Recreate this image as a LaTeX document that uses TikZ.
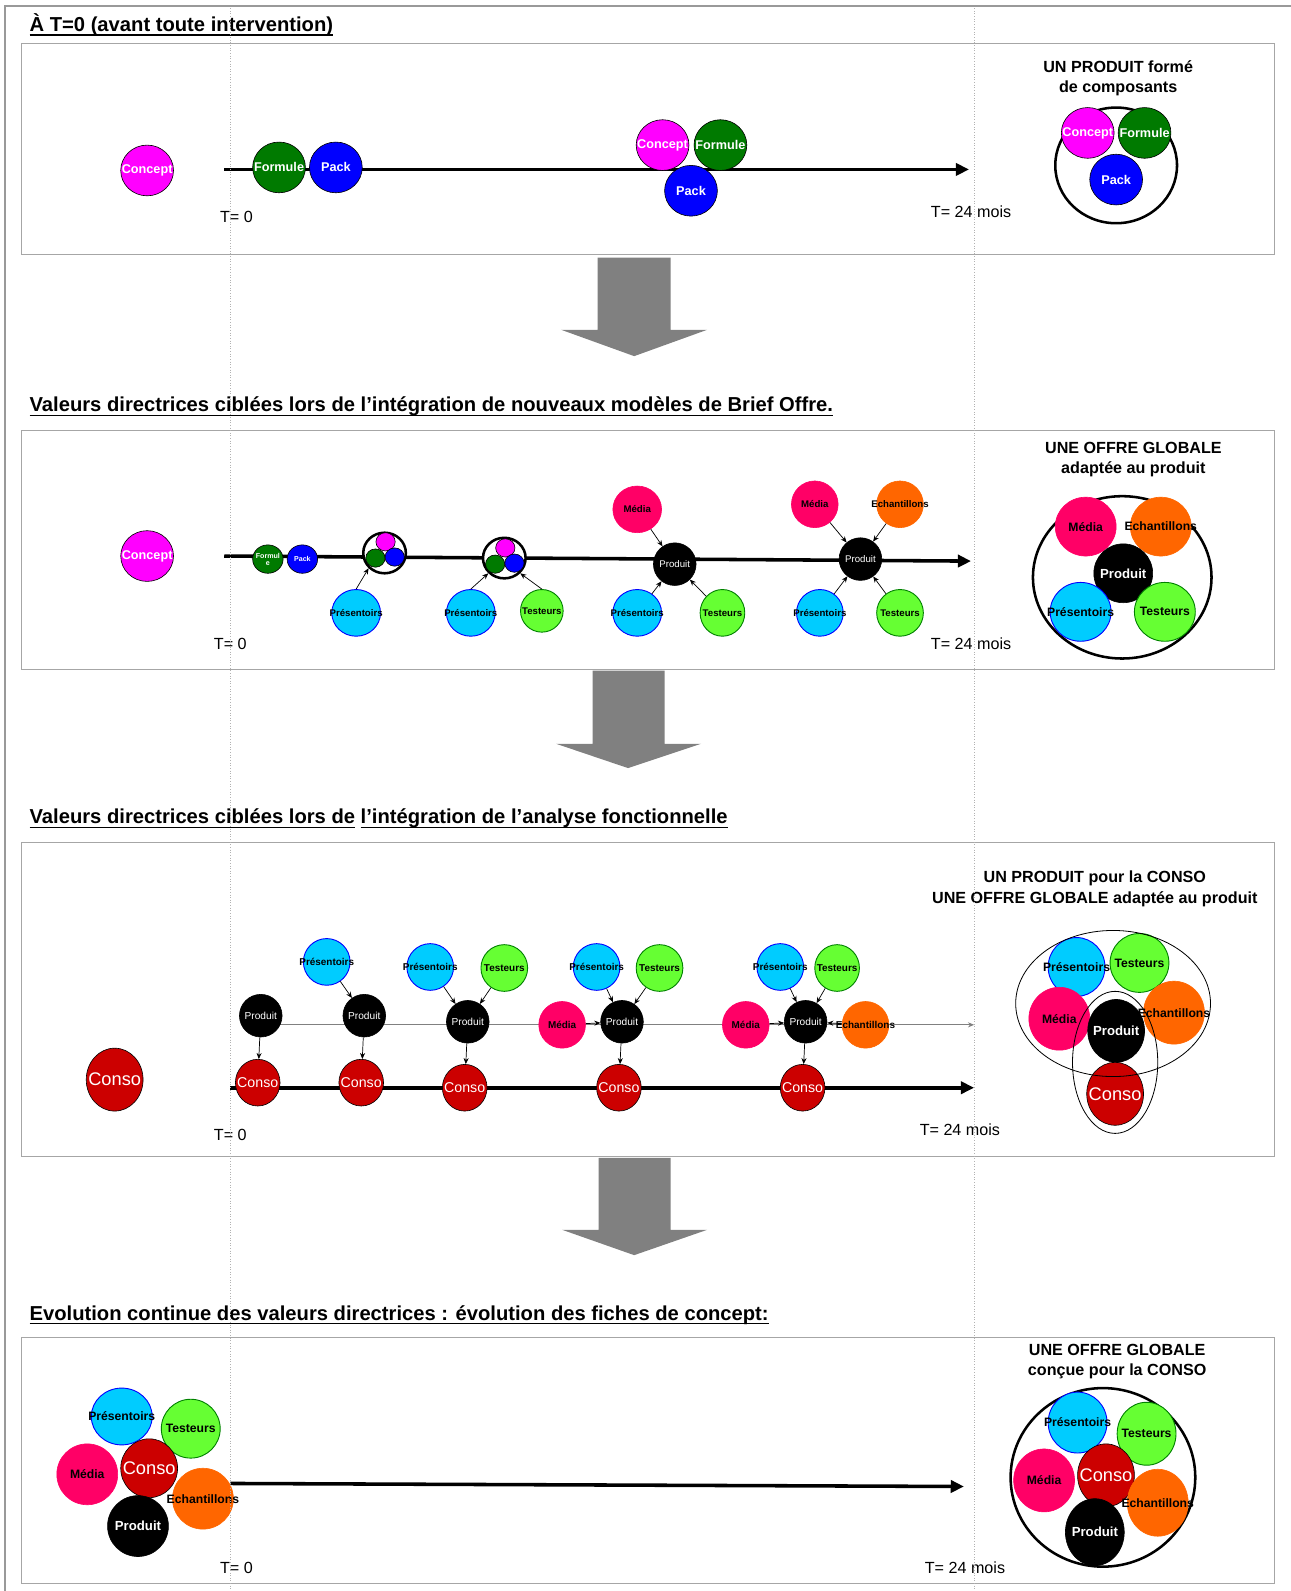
\documentclass[tikz,border=0pt]{standalone}
\usepackage{fontspec}
\setmainfont{Liberation Sans}
\usetikzlibrary{arrows.meta,shapes.geometric}
\definecolor{cConcept}{HTML}{FF00FF}
\definecolor{cFormule}{HTML}{007A00}
\definecolor{cPack}{HTML}{0000FF}
\definecolor{cPresent}{HTML}{00CCFF}
\definecolor{cTesteur}{HTML}{66FF33}
\definecolor{cMedia}{HTML}{FF0066}
\definecolor{cEchant}{HTML}{FF6600}
\definecolor{cConso}{HTML}{CC0000}
\definecolor{cFleche}{HTML}{808080}
\newcommand{\etiq}[1]{\makebox[0pt]{#1}}
\newcommand{\souligne}[1]{\setbox0=\hbox{#1}\rlap{\raisebox{-4.2pt}{\rule{\wd0}{1.6pt}}}\box0\relax}

\tikzset{
  fs/.style={font=\fontsize{#1}{#1}\selectfont\bfseries},
  fsn/.style={font=\fontsize{#1}{#1}\selectfont},
  taille/.style 2 args={minimum width=#1, minimum height=#2},
  cadre/.style={draw=gray!70, line width=1pt},
  titre/.style={anchor=base west, inner sep=0pt, font=\fontsize{19.9}{22}\selectfont\bfseries},
  temps/.style={anchor=base, inner sep=0pt, font=\fontsize{15.9}{16}\selectfont},
  entete/.style={align=center, inner sep=0pt, font=\fontsize{15.9}{20}\selectfont\bfseries},
  axe/.style={line width=3.5pt, -{Triangle[length=13pt,width=12pt]}},
  fin/.style={draw=gray, line width=0.8pt, -{Stealth[length=6pt,width=5pt]}},
  lien/.style={line width=0.7pt, -{Stealth[length=6pt,width=5pt]}},
  bulle/.style={ellipse, inner sep=0pt, draw=black, line width=0.6pt},
  concept/.style={bulle, fill=cConcept, text=white, fs=#1},
  formule/.style={bulle, fill=cFormule, text=white, fs=#1},
  pack/.style={bulle, fill=cPack, text=white, fs=#1},
  presentoir/.style={bulle, fill=cPresent, draw=blue, line width=0.9pt, fs=#1},
  testeur/.style={bulle, fill=cTesteur, draw=green!50!black, line width=0.9pt, fs=#1},
  media/.style={bulle, fill=cMedia, draw=cMedia, fs=#1},
  echant/.style={bulle, fill=cEchant, draw=cEchant, fs=#1},
  produit/.style={bulle, fill=black, text=white, fsn=#1},
  conso/.style={bulle, fill=cConso, text=white, fsn=#1},
  anneau/.style={ellipse, inner sep=0pt, draw=black, line width=2.5pt, fill=white},
  ensemble/.style={ellipse, inner sep=0pt, draw=black, line width=2.5pt},
  ensemblefin/.style={ellipse, inner sep=0pt, draw=black, line width=0.8pt},
  pointille/.style={draw=gray!60, dotted, line width=0.6pt}
}

\begin{document}
\begin{tikzpicture}[x=1pt,y=-1pt]
  \useasboundingbox (0,0) rectangle (1272,1568);
  \draw[gray!80, line width=1.5pt] (5,1568) -- (5,6) -- (1272,6);

  % --- A T=0 ---
  \node[titre] (titreA) at (29,31) {\souligne{À T=0 (avant toute intervention)}};
  \draw[cadre] (21,43) rectangle (1256,251);
  \coordinate (a0) at (221,167);
  \coordinate (a24) at (955,167);
  \draw[axe] (a0) -- (a24);
  \node[concept=12.5, taille={52}{50}] (aConcept) at (145,168) {\etiq{Concept}};
  \node[formule=12.5, taille={52}{50}] (aFormule) at (275,165) {\etiq{Formule}};
  \node[pack=12.5, taille={52}{50}] (aPack) at (331,165) {\etiq{Pack}};
  \node[concept=12.5, taille={52}{50}] (aConcept2) at (653,143) {\etiq{Concept}};
  \node[formule=12.5, taille={52}{50}] (aFormule2) at (710,143) {\etiq{Formule}};
  \node[pack=12.5, taille={52}{50}] (aPack2) at (681,188) {\etiq{Pack}};
  \node[temps] (aT0) at (233,219) {T= 0};
  \node[temps] (aT24) at (957,214) {T= 24 mois};
  \node[entete] (aEntete) at (1102,77) {UN PRODUIT formé\\de composants};
  \node[ensemble, taille={120}{114}] (aEns) at (1100,163) {};
  \node[concept=12.5, taille={52}{50}] (aConcept3) at (1072,131) {\etiq{Concept}};
  \node[formule=12.5, taille={52}{50}] (aFormule3) at (1128,131) {\etiq{Formule}};
  \node[pack=12.5, taille={52}{50}] (aPack3) at (1100,177) {\etiq{Pack}};

  \fill[cFleche] (589,254) -- (661,254) -- (661,325) -- (697,325) -- (625,351) -- (553,325) -- (589,325) -- cycle;

  % --- Brief Offre ---
  \node[titre] (titreB) at (29,406) {\souligne{Valeurs directrices ciblées lors de l’intégration de nouveaux modèles de Brief Offre.}};
  \draw[cadre] (21,424) rectangle (1256,660);
  \coordinate (b0) at (221,548);
  \coordinate (b24) at (957,553);
  \draw[axe] (b0) -- (b24);
  \node[concept=12.5, taille={52}{50}] (bConcept) at (145,548) {\etiq{Concept}};
  \node[formule=7, taille={30}{28}] (bFormule) at (264,551) {\etiq{\shortstack{Formul\\e}}};
  \node[pack=7, taille={30}{28}] (bPack) at (298,551) {\etiq{Pack}};
  \node[anneau, taille={42}{40}] (bAnneau1) at (379,545) {};
  \node[concept=1, taille={19}{18}] (bConceptA1) at (380,534) {};
  \node[formule=1, taille={19}{18}] (bFormuleA1) at (370,550) {};
  \node[pack=1, taille={19}{18}] (bPackA1) at (389,549) {};
  \node[anneau, taille={42}{40}] (bAnneau2) at (497,550) {};
  \node[concept=1, taille={19}{18}] (bConceptA2) at (498,540) {};
  \node[formule=1, taille={19}{18}] (bFormuleA2) at (488,556) {};
  \node[pack=1, taille={19}{18}] (bPackA2) at (507,555) {};
  \node[presentoir=9.5, taille={48}{46}] (bPres1) at (351,604) {\etiq{Présentoirs}};
  \node[presentoir=9.5, taille={48}{46}] (bPres2) at (464,604) {\etiq{Présentoirs}};
  \node[testeur=9.5, taille={42}{42}] (bTest2) at (534,602) {\etiq{Testeurs}};
  \draw[lien] (bPres1.north) -- (bAnneau1.south west);
  \draw[lien] (bPres2.north) -- (bAnneau2.south west);
  \draw[lien] (bTest2.north) -- (bAnneau2.south east);
  % premier produit
  \node[media=9.5, taille={48}{46}] (bMedia1) at (628,502) {\etiq{Média}};
  \node[produit=9.5, taille={42}{42}] (bProduit1) at (665,556) {\etiq{Produit}};
  \node[presentoir=9.5, taille={48}{46}] (bPres3) at (628,604) {\etiq{Présentoirs}};
  \node[testeur=9.5, taille={44}{46}] (bTest3) at (712,604) {\etiq{Testeurs}};
  \draw[lien] (bMedia1) -- (bProduit1);
  \draw[lien] (bPres3) -- (bProduit1);
  \draw[lien] (bTest3) -- (bProduit1);
  % second produit
  \node[media=9.5, taille={46}{46}] (bMedia2) at (803,497) {\etiq{Média}};
  \node[echant=9.5, taille={46}{46}] (bEchant2) at (887,497) {\etiq{Echantillons}};
  \node[produit=9.5, taille={42}{42}] (bProduit2) at (848,551) {\etiq{Produit}};
  \node[presentoir=9.5, taille={46}{46}] (bPres4) at (808,604) {\etiq{Présentoirs}};
  \node[testeur=9.5, taille={46}{46}] (bTest4) at (887,604) {\etiq{Testeurs}};
  \draw[lien] (bMedia2) -- (bProduit2);
  \draw[lien] (bEchant2) -- (bProduit2);
  \draw[lien] (bPres4) -- (bProduit2);
  \draw[lien] (bTest4) -- (bProduit2);
  \node[temps] (bT0) at (227,640) {T= 0};
  \node[temps] (bT24) at (957,640) {T= 24 mois};
  \node[entete] (bEntete) at (1117,453) {UNE OFFRE GLOBALE\\adaptée au produit};
  \node[ensemble, taille={176}{160}] (bEns) at (1106,569) {};
  \node[media=12, taille={60}{58}] (bMedia3) at (1070,519) {\etiq{Média}};
  \node[echant=12, taille={60}{58}] (bEchant3) at (1144,519) {\etiq{Echantillons}};
  \node[produit=13, fs=13, taille={58}{58}] (bProduit3) at (1107,565) {\etiq{Produit}};
  \node[presentoir=12, taille={60}{58}] (bPres5) at (1065,603) {\etiq{Présentoirs}};
  \node[testeur=12, taille={60}{58}] (bTest5) at (1148,603) {\etiq{Testeurs}};

  \fill[cFleche] (584,661) -- (655,661) -- (655,733) -- (691,733) -- (619,757) -- (548,733) -- (584,733) -- cycle;

  % --- Analyse fonctionnelle ---
  \node[titre] (titreC) at (29,812) {\souligne{Valeurs directrices ciblées lors de} \souligne{l’intégration de l’analyse fonctionnelle}};
  \draw[cadre] (21,830) rectangle (1256,1140);
  \coordinate (c0) at (227,1072);
  \coordinate (c24) at (960,1072);
  \coordinate (cp0) at (257,1010);
  \coordinate (cp24) at (960,1010);
  \draw[axe] (c0) -- (c24);
  \draw[fin] (cp0) -- (cp24);
  \node[conso=18, taille={56}{62}] (cConso0) at (113,1064) {\etiq{Conso}};
  \node[produit=10, taille={42}{42}] (cProduit1) at (257,1001) {\etiq{Produit}};
  \node[produit=10, taille={42}{42}] (cProduit2) at (359,1001) {\etiq{Produit}};
  \node[produit=10, taille={42}{42}] (cProduit3) at (461,1007) {\etiq{Produit}};
  \node[produit=10, taille={42}{42}] (cProduit4) at (613,1007) {\etiq{Produit}};
  \node[produit=10, taille={42}{42}] (cProduit5) at (794,1007) {\etiq{Produit}};
  \node[conso=14, taille={44}{46}] (cConso1) at (254,1067) {\etiq{Conso}};
  \node[conso=14, taille={44}{46}] (cConso2) at (356,1067) {\etiq{Conso}};
  \node[conso=14, taille={44}{46}] (cConso3) at (458,1072) {\etiq{Conso}};
  \node[conso=14, taille={44}{46}] (cConso4) at (610,1072) {\etiq{Conso}};
  \node[conso=14, taille={44}{46}] (cConso5) at (791,1072) {\etiq{Conso}};
  \node[presentoir=9.8, taille={46}{46}] (cPres2) at (322,948) {\etiq{Présentoirs}};
  \node[presentoir=9.8, taille={46}{46}] (cPres3) at (424,953) {\etiq{Présentoirs}};
  \node[testeur=9.8, taille={46}{46}] (cTest3) at (497,954) {\etiq{Testeurs}};
  \node[media=9.8, taille={46}{46}] (cMedia4) at (554,1010) {\etiq{Média}};
  \node[presentoir=9.8, taille={46}{46}] (cPres4) at (588,953) {\etiq{Présentoirs}};
  \node[testeur=9.8, taille={46}{46}] (cTest4) at (650,954) {\etiq{Testeurs}};
  \node[media=9.8, taille={46}{46}] (cMedia5) at (735,1010) {\etiq{Média}};
  \node[presentoir=9.8, taille={46}{46}] (cPres5) at (769,953) {\etiq{Présentoirs}};
  \node[testeur=9.8, taille={44}{46}] (cTest5) at (825,954) {\etiq{Testeurs}};
  \node[echant=9.8, taille={46}{46}] (cEchant5) at (853,1010) {\etiq{Echantillons}};
  \foreach \i in {1,...,5} {
    \draw[lien] (cProduit\i) -- (cConso\i);
  }
  \draw[lien] (cPres2) -- (cProduit2);
  \draw[lien] (cPres3) -- (cProduit3);
  \draw[lien] (cTest3) -- (cProduit3);
  \draw[lien] (cMedia4) -- (cProduit4);
  \draw[lien] (cPres4) -- (cProduit4);
  \draw[lien] (cTest4) -- (cProduit4);
  \draw[lien] (cMedia5) -- (cProduit5);
  \draw[lien] (cPres5) -- (cProduit5);
  \draw[lien] (cTest5) -- (cProduit5);
  \draw[lien] (cEchant5) -- (cProduit5);
  \node[temps] (cT0) at (227,1124) {T= 0};
  \node[temps] (cT24) at (946,1119) {T= 24 mois};
  \node[entete] (cEntete) at (1079,876) {UN PRODUIT pour la CONSO\\UNE OFFRE GLOBALE adaptée au produit};
  \node[presentoir=12, taille={56}{58}] (cPres6) at (1061,953) {\etiq{Présentoirs}};
  \node[testeur=12, taille={58}{58}] (cTest6) at (1123,949) {\etiq{Testeurs}};
  \node[media=12, taille={60}{62}] (cMedia6) at (1044,1004) {\etiq{Média}};
  \node[echant=12, taille={60}{62}] (cEchant6) at (1157,998) {\etiq{Echantillons}};
  \node[produit=13, fs=13, taille={56}{62}] (cProduit6) at (1100,1016) {\etiq{Produit}};
  \node[conso=18, taille={56}{62}] (cConso6) at (1099,1078) {\etiq{Conso}};
  \node[ensemblefin, taille={192}{144}] (cEnsOffre) at (1097,989) {};
  \node[ensemblefin, taille={84}{140}] (cEnsConso) at (1099,1047) {};

  \fill[cFleche] (590,1141) -- (661,1141) -- (661,1212) -- (697,1212) -- (625,1237) -- (554,1212) -- (590,1212) -- cycle;

  % --- Evolution continue ---
  \node[titre] (titreD) at (29,1301) {\souligne{Evolution continue des valeurs directrices : évolution des fiches de concept:}};
  \draw[cadre] (21,1318) rectangle (1256,1561);
  \coordinate (d0) at (227,1462);
  \coordinate (d24) at (950,1465);
  \draw[axe] (d0) -- (d24);
  \node[presentoir=12, taille={60}{56}] (dPres) at (120,1396) {\etiq{Présentoirs}};
  \node[testeur=12, taille={58}{58}] (dTest) at (188,1408) {\etiq{Testeurs}};
  \node[media=12, taille={60}{60}] (dMedia) at (86,1453) {\etiq{Média}};
  \node[conso=18, taille={56}{58}] (dConso) at (147,1447) {\etiq{Conso}};
  \node[echant=12, taille={60}{60}] (dEchant) at (200,1477) {\etiq{Echantillons}};
  \node[produit=13, fs=13, taille={60}{60}] (dProduit) at (136,1504) {\etiq{Produit}};
  \node[temps] (dT0) at (233,1551) {T= 0};
  \node[temps] (dT24) at (951,1551) {T= 24 mois};
  \node[entete] (dEntete) at (1101,1342) {UNE OFFRE GLOBALE\\conçue pour la CONSO};
  \node[ensemble, taille={182}{176}] (dEns) at (1087,1456) {};
  \node[presentoir=12, taille={58}{60}] (dPres2) at (1062,1402) {\etiq{Présentoirs}};
  \node[testeur=12, taille={58}{62}] (dTest2) at (1130,1413) {\etiq{Testeurs}};
  \node[media=12, taille={60}{62}] (dMedia2) at (1029,1459) {\etiq{Média}};
  \node[conso=18, taille={56}{62}] (dConso2) at (1090,1454) {\etiq{Conso}};
  \node[echant=12, taille={60}{66}] (dEchant2) at (1141,1481) {\etiq{Echantillons}};
  \node[produit=13, fs=13, taille={58}{66}] (dProduit2) at (1079,1510) {\etiq{Produit}};

  % reperes T=0 et T=24 mois
  \draw[pointille] (227,8) -- (227,1568);
  \draw[pointille] (960,8) -- (960,1568);
\end{tikzpicture}
\end{document}
